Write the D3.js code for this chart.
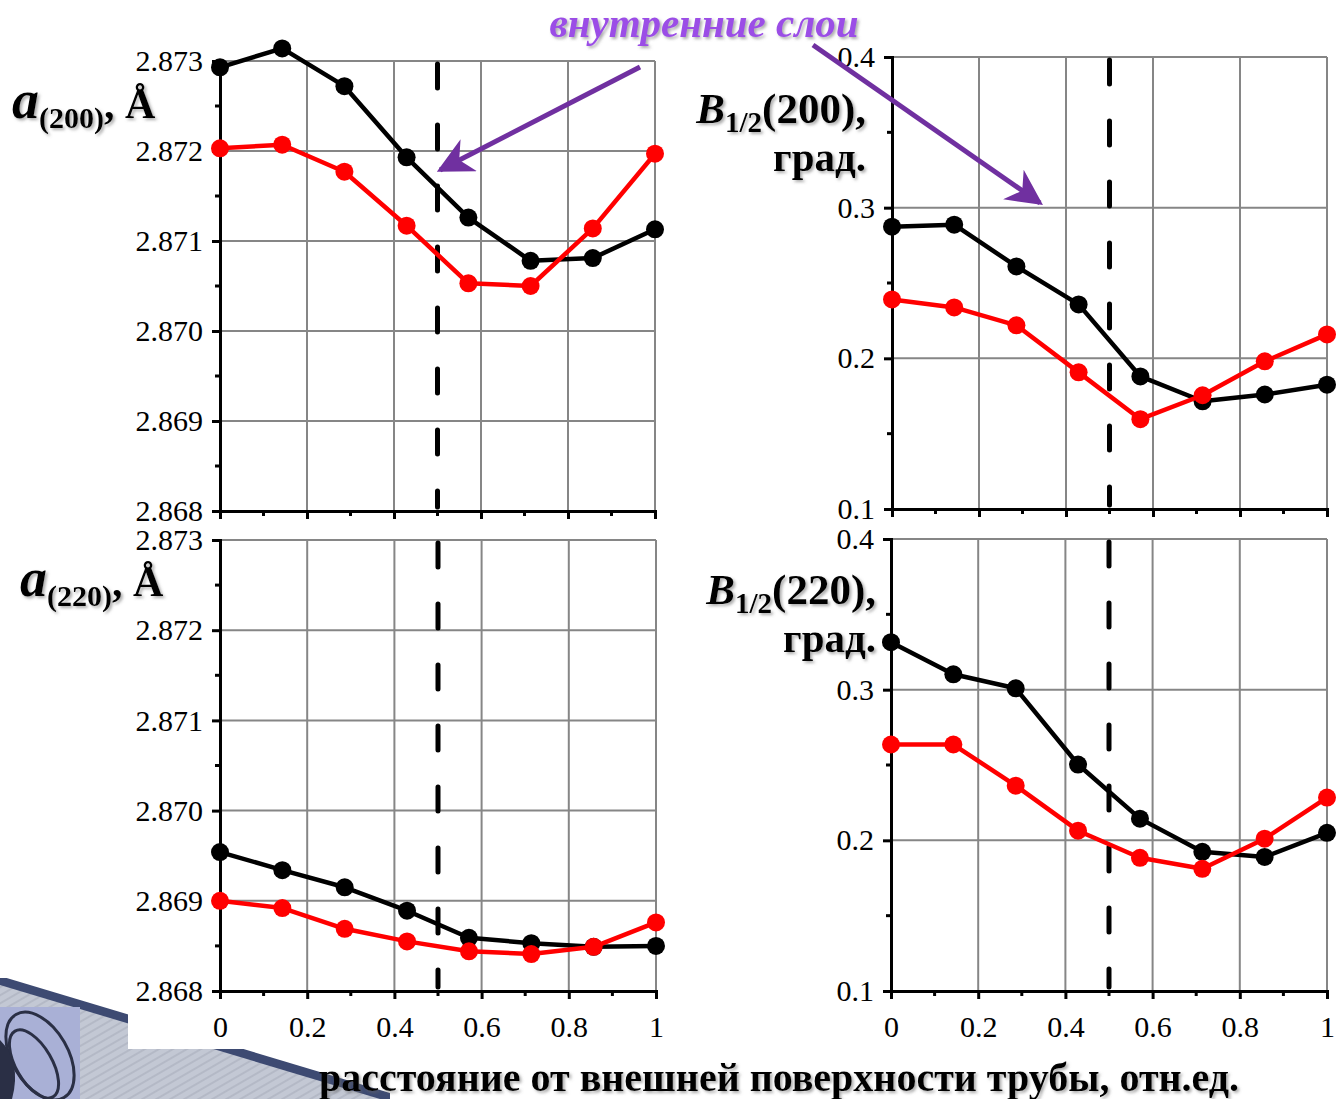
<!DOCTYPE html>
<html>
<head>
<meta charset="utf-8">
<script src="https://cdn.jsdelivr.net/npm/d3@7"></script>
<style>
  body { margin: 0; background: #fff; }
  svg { display: block; font-family: "Liberation Serif", "DejaVu Serif", serif; }
</style>
</head>
<body>
<svg id="chart" width="1337" height="1099"></svg>
<script>
// relative depth positions of the 8 layers
const depth = [0, 0.143, 0.286, 0.429, 0.571, 0.714, 0.857, 1];

// lattice parameter a(200), Å
const a200Black = [2.87293, 2.87314, 2.87272, 2.87193, 2.87126, 2.87078, 2.87081, 2.87113];
const a200Red   = [2.87203, 2.87207, 2.87177, 2.87117, 2.87053, 2.87050, 2.87114, 2.87197];
// lattice parameter a(220), Å
const a220Black = [2.86954, 2.86934, 2.86915, 2.86889, 2.86859, 2.86853, 2.86849, 2.86850];
const a220Red   = [2.86900, 2.86892, 2.86869, 2.86855, 2.86844, 2.86841, 2.86849, 2.86876];
// half-width B1/2(200), deg
const b200Black = [0.2874, 0.2887, 0.2610, 0.2358, 0.1880, 0.1715, 0.1760, 0.1825];
const b200Red   = [0.2391, 0.2338, 0.2219, 0.1907, 0.1596, 0.1755, 0.1980, 0.2159];
// half-width B1/2(220), deg
const b220Black = [0.3315, 0.3102, 0.3009, 0.2503, 0.2144, 0.1924, 0.1890, 0.2050];
const b220Red   = [0.2636, 0.2636, 0.2363, 0.2064, 0.1884, 0.1811, 0.2011, 0.2284];

const aTicks = [2.868, 2.869, 2.870, 2.871, 2.872, 2.873];
const bTicks = [0.1, 0.2, 0.3, 0.4];
const xTicks = [0, 0.2, 0.4, 0.6, 0.8, 1];
const xMinor = [0.1, 0.3, 0.5, 0.7, 0.9];
const boundary = 0.5;

const svg = d3.select("#chart");
const defs = svg.append("defs");

const shadow = defs.append("filter").attr("id", "shadow")
  .attr("x", "-10%").attr("y", "-20%").attr("width", "130%").attr("height", "150%");
shadow.append("feDropShadow").attr("dx", 2).attr("dy", 2).attr("stdDeviation", 1.5)
  .attr("flood-color", "#666").attr("flood-opacity", 0.55);

defs.append("marker").attr("id", "head")
  .attr("viewBox", "0 0 10 10").attr("refX", 9).attr("refY", 5)
  .attr("markerWidth", 36).attr("markerHeight", 36)
  .attr("markerUnits", "userSpaceOnUse").attr("orient", "auto")
  .append("path").attr("d", "M0,0 L10,5 L0,10 L3,5 Z").attr("fill", "#7030A0");

// decoration in bottom left corner (template background)
const deco = svg.append("g");
const stripes = defs.append("pattern").attr("id", "stripes")
  .attr("width", 7).attr("height", 7).attr("patternUnits", "userSpaceOnUse")
  .attr("patternTransform", "rotate(60)");
stripes.append("rect").attr("width", 7).attr("height", 7).attr("fill", "#c3c8d4");
stripes.append("rect").attr("width", 2).attr("height", 7).attr("fill", "#b4b9c6");
deco.append("path").attr("d", "M0,982 L390,1099 L0,1099 Z").attr("fill", "url(#stripes)");
deco.append("path").attr("d", "M0,976 L390,1093 L390,1099 L380,1099 L0,985 Z").attr("fill", "#3d4a72");
deco.append("rect").attr("x", 0).attr("y", 1007).attr("width", 80).attr("height", 92).attr("fill", "#a9b0d6");
deco.append("ellipse").attr("cx", 40).attr("cy", 1056).attr("rx", 28).attr("ry", 48)
  .attr("transform", "rotate(-30,40,1056)").attr("fill", "none").attr("stroke", "#2a2f45").attr("stroke-width", 3);
deco.append("ellipse").attr("cx", 34).attr("cy", 1064).attr("rx", 18).attr("ry", 38)
  .attr("transform", "rotate(-30,34,1064)").attr("fill", "none").attr("stroke", "#2a2f45").attr("stroke-width", 3);
deco.append("path").attr("d", "M0,1040 Q22,1062 12,1099 L0,1099 Z").attr("fill", "#2a2f45");
svg.append("rect").attr("x", 128).attr("y", 0).attr("width", 1209).attr("height", 1049).attr("fill", "#fff");
svg.append("rect").attr("x", 0).attr("y", 0).attr("width", 1337).attr("height", 978).attr("fill", "#fff");

const panels = [
  { x0: 220, x1: 655, yb: 511, yt: 61, dom: [2.868, 2.873], ticks: aTicks, fmt: d3.format(".3f"),
    black: a200Black, red: a200Red, labels: false },
  { x0: 892, x1: 1327, yb: 509, yt: 57, dom: [0.1, 0.4], ticks: bTicks, fmt: d3.format(".1f"),
    black: b200Black, red: b200Red, labels: false },
  { x0: 220, x1: 656, yb: 991, yt: 540, dom: [2.868, 2.873], ticks: aTicks, fmt: d3.format(".3f"),
    black: a220Black, red: a220Red, labels: true },
  { x0: 891, x1: 1327, yb: 991, yt: 539, dom: [0.1, 0.4], ticks: bTicks, fmt: d3.format(".1f"),
    black: b220Black, red: b220Red, labels: true }
];

panels.forEach(p => {
  const x = d3.scaleLinear().domain([0, 1]).range([p.x0, p.x1]);
  const y = d3.scaleLinear().domain(p.dom).range([p.yb, p.yt]);
  const g = svg.append("g");
  const step = p.ticks[1] - p.ticks[0];
  const yMinor = p.ticks.slice(1).map(t => t - step / 2);

  // grid
  g.selectAll(".hg").data(p.ticks.slice(1)).enter().append("line")
    .attr("x1", p.x0).attr("x2", p.x1).attr("y1", d => y(d)).attr("y2", d => y(d))
    .attr("stroke", "#868686").attr("stroke-width", 2);
  g.selectAll(".vg").data(xTicks.slice(1)).enter().append("line")
    .attr("x1", d => x(d)).attr("x2", d => x(d)).attr("y1", p.yt).attr("y2", p.yb)
    .attr("stroke", "#868686").attr("stroke-width", 2);

  // boundary between outer and inner layers
  g.append("line").attr("x1", x(boundary)).attr("x2", x(boundary))
    .attr("y1", p.yt + 3).attr("y2", p.yb - 4)
    .attr("stroke", "#000").attr("stroke-width", 5).attr("stroke-linecap", "round")
    .attr("stroke-dasharray", "24,37");

  // axes
  const ya = g.append("g").attr("transform", `translate(${p.x0},0)`)
    .call(d3.axisLeft(y).tickValues(p.ticks).tickSize(8).tickPadding(9).tickFormat(p.fmt));
  ya.select(".domain").attr("stroke-width", 3);
  ya.selectAll(".tick line").attr("stroke-width", 3);
  ya.selectAll("text").attr("font-size", 30).attr("font-family", "Liberation Serif").attr("fill", "#000");
  g.selectAll(".ym").data(yMinor).enter().append("line")
    .attr("x1", p.x0 - 5).attr("x2", p.x0).attr("y1", d => y(d)).attr("y2", d => y(d))
    .attr("stroke", "#000").attr("stroke-width", 3);

  const xa = g.append("g").attr("transform", `translate(0,${p.yb})`)
    .call(d3.axisBottom(x).tickValues(xTicks).tickSize(8).tickPadding(17)
      .tickFormat(d => p.labels ? (d === 0 || d === 1 ? d3.format("d")(d) : d3.format(".1f")(d)) : ""));
  xa.select(".domain").attr("stroke-width", 3);
  xa.selectAll(".tick line").attr("stroke-width", 3);
  xa.selectAll("text").attr("font-size", 30).attr("font-family", "Liberation Serif").attr("fill", "#000");
  g.selectAll(".xm").data(xMinor).enter().append("line")
    .attr("x1", d => x(d)).attr("x2", d => x(d)).attr("y1", p.yb).attr("y2", p.yb + 5)
    .attr("stroke", "#000").attr("stroke-width", 3);

  // series
  const line = d3.line().x((d, i) => x(depth[i])).y(d => y(d));
  [[p.black, "#000"], [p.red, "#ff0000"]].forEach(([vals, col]) => {
    g.append("path").datum(vals).attr("d", line)
      .attr("fill", "none").attr("stroke", col).attr("stroke-width", 4.5).attr("stroke-linejoin", "round");
    g.selectAll(null).data(vals).enter().append("circle")
      .attr("cx", (d, i) => x(depth[i])).attr("cy", d => y(d)).attr("r", 9).attr("fill", col);
  });
});

// axis titles
function aTitle(xp, yp, sub) {
  const t = svg.append("text").attr("x", xp).attr("y", yp).attr("filter", "url(#shadow)")
    .attr("font-weight", "bold").attr("fill", "#000");
  t.append("tspan").text("a").attr("font-style", "italic").attr("font-size", 54);
  t.append("tspan").text(sub).attr("font-size", 30).attr("dy", 10);
  t.append("tspan").text(", Å").attr("font-size", 42).attr("dy", -10);
}
aTitle(12, 118, "(200)");
aTitle(20, 596, "(220)");

function bTitle(xp, yp, hkl) {
  const t = svg.append("text").attr("x", xp).attr("y", yp).attr("text-anchor", "end")
    .attr("filter", "url(#shadow)").attr("font-weight", "bold").attr("fill", "#000");
  t.append("tspan").text("B").attr("font-style", "italic").attr("font-size", 43);
  t.append("tspan").text("1/2").attr("font-size", 29).attr("dy", 9);
  t.append("tspan").text(hkl + ",").attr("font-size", 43).attr("dy", -9);
  svg.append("text").attr("x", xp).attr("y", yp + 48).attr("text-anchor", "end")
    .attr("filter", "url(#shadow)").attr("font-weight", "bold").attr("font-size", 41).text("град.");
}
bTitle(866, 123, "(200)");
bTitle(876, 604, "(220)");

svg.append("text").attr("x", 779).attr("y", 1091).attr("text-anchor", "middle")
  .attr("filter", "url(#shadow)").attr("font-weight", "bold").attr("font-size", 40)
  .text("расстояние от внешней поверхности трубы, отн.ед.");

// annotation
svg.append("text").attr("x", 704).attr("y", 37).attr("text-anchor", "middle")
  .attr("filter", "url(#shadow)").attr("font-weight", "bold").attr("font-style", "italic")
  .attr("font-size", 41).attr("fill", "#9b4de6").text("внутренние слои");
svg.append("line").attr("x1", 640).attr("y1", 67).attr("x2", 440).attr("y2", 170)
  .attr("stroke", "#7030A0").attr("stroke-width", 5).attr("marker-end", "url(#head)");
svg.append("line").attr("x1", 813).attr("y1", 45).attr("x2", 1040).attr("y2", 203)
  .attr("stroke", "#7030A0").attr("stroke-width", 5).attr("marker-end", "url(#head)");
</script>
</body>
</html>
